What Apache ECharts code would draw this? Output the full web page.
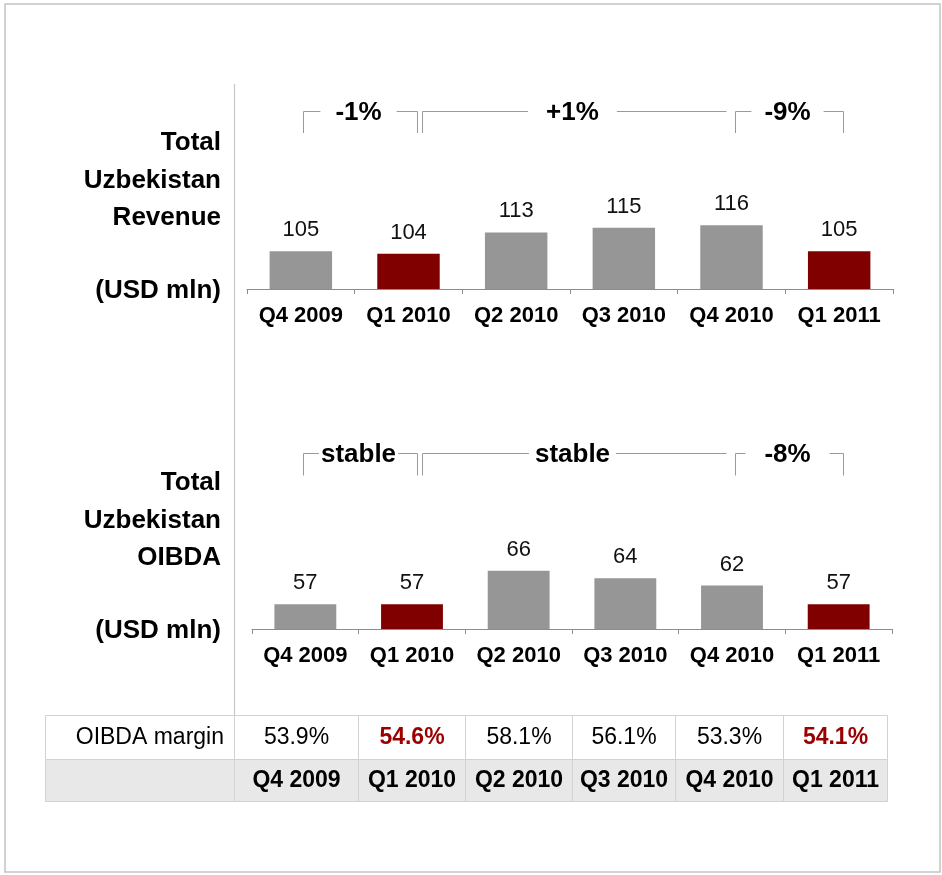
<!DOCTYPE html>
<html>
<head>
<meta charset="utf-8">
<title>Uzbekistan revenue and OIBDA</title>
<script src="https://cdn.jsdelivr.net/npm/echarts@6/dist/echarts.min.js"></script>
<style>
    html, body { margin: 0; padding: 0; background: #fff; }
    #chart { width: 942px; height: 875px; }
</style>
</head>
<body>
<div id="chart"></div>
<script type="text/javascript">
    // data
    var quarters = ['Q4 2009', 'Q1 2010', 'Q2 2010', 'Q3 2010', 'Q4 2010', 'Q1 2011'];
    var revenue = [105, 104, 113, 115, 116, 105];
    var oibda = [57, 57, 66, 64, 62, 57];
    var margins = ['53.9%', '54.6%', '58.1%', '56.1%', '53.3%', '54.1%'];
    var highlighted = [1, 5];   // Q1 quarters in dark red
    var revenueChanges = [
        { from: 0, to: 1, text: '-1%' },
        { from: 1, to: 4, text: '+1%', open: true },
        { from: 4, to: 5, text: '-9%' }
    ];
    var oibdaChanges = [
        { from: 0, to: 1, text: 'stable' },
        { from: 1, to: 4, text: 'stable', open: true },
        { from: 4, to: 5, text: '-8%' }
    ];

    var FONT = '"Liberation Sans", Arial, sans-serif';
    var GREY = '#969696';
    var RED = '#800000';

    var chart = echarts.init(document.getElementById('chart'));

    function barColor(p) {
        return highlighted.indexOf(p.dataIndex) >= 0 ? RED : GREY;
    }

    function xAxisFor(i) {
        return {
            type: 'category',
            gridIndex: i,
            data: quarters,
            axisLine: { lineStyle: { color: '#8c8c8c', width: 1 } },
            axisTick: { show: true, interval: 0, length: 5, lineStyle: { color: '#8c8c8c' } },
            axisLabel: {
                interval: 0, hideOverlap: false, margin: 16,
                fontSize: 22, fontWeight: 'bold', color: '#000', fontFamily: FONT
            }
        };
    }

    function barSeries(i, values) {
        return {
            type: 'bar',
            xAxisIndex: i,
            yAxisIndex: i,
            data: values,
            barWidth: '58%',
            itemStyle: { color: barColor },
            label: {
                show: true,
                position: 'top',
                distance: 10,
                fontSize: 22,
                color: '#111',
                fontFamily: FONT
            }
        };
    }

    chart.setOption({
        animation: false,
        textStyle: { fontFamily: FONT },
        grid: [
            { left: 247, right: 49, top: 190, height: 99 },
            { left: 252, right: 50, top: 530, height: 99 }
        ],
        xAxis: [xAxisFor(0), xAxisFor(1)],
        yAxis: [
            { type: 'value', gridIndex: 0, min: 89, max: 131, show: false },
            { type: 'value', gridIndex: 1, min: 50.3, max: 77, show: false }
        ],
        series: [barSeries(0, revenue), barSeries(1, oibda)]
    });

    // decorations: frame, titles, change brackets, margin table
    var els = [];

    els.push({
        type: 'rect', z: 1,
        shape: { x: 5, y: 4, width: 935, height: 868 },
        style: { fill: 'none', stroke: '#c4c4c4', lineWidth: 1.5 }
    });
    els.push({
        type: 'line', z: 1,
        shape: { x1: 234.5, y1: 84, x2: 234.5, y2: 715 },
        style: { stroke: '#c8c8c8', lineWidth: 1.2 }
    });

    function titleLines(lines, ys) {
        lines.forEach(function (t, k) {
            els.push({
                type: 'text', z: 5,
                style: {
                    text: t, x: 221, y: ys[k],
                    align: 'right', verticalAlign: 'middle',
                    font: 'bold 26px ' + FONT, fill: '#000'
                }
            });
        });
    }
    titleLines(['Total', 'Uzbekistan', 'Revenue', '(USD mln)'], [143, 180.5, 218, 291]);
    titleLines(['Total', 'Uzbekistan', 'OIBDA', '(USD mln)'], [483, 520.5, 558, 631]);

    // bracket ends relative to the bar centres of the upper chart
    var bracketNudge = [[2, 8], [13, -6], [3, 4]];
    function brackets(list, pads, yTop, yBottom, yText) {
        list.forEach(function (b, k) {
            var x1 = Math.round(chart.convertToPixel({ xAxisIndex: 0 }, quarters[b.from]) + bracketNudge[k][0]) + 0.5;
            var x2 = Math.round(chart.convertToPixel({ xAxisIndex: 0 }, quarters[b.to]) + bracketNudge[k][1]) + 0.5;
            var pts = b.open
                ? [[x1, yBottom], [x1, yTop], [x2, yTop]]
                : [[x1, yBottom], [x1, yTop], [x2, yTop], [x2, yBottom]];
            els.push({
                type: 'polyline', z: 3,
                shape: { points: pts },
                style: { fill: null, stroke: '#9a9a9a', lineWidth: 1 }
            });
            els.push({
                type: 'text', z: 6,
                style: {
                    text: b.text, x: (x1 + x2) / 2 - 2, y: yText,
                    align: 'center', verticalAlign: 'middle',
                    font: 'bold 26px ' + FONT, fill: '#000',
                    backgroundColor: '#fff', padding: [0, pads[k]]
                }
            });
        });
    }
    brackets(revenueChanges, [15, 18, 13], 111.5, 133, 113);
    brackets(oibdaChanges, [2, 6, 19], 453.5, 475.5, 455);

    // table with the OIBDA margin
    var colX = [45.5, 234.5, 358.5, 465.5, 572.5, 675.5, 783.5, 887.5];
    var rowY = [715.5, 759.5, 801.5];
    for (var r = 0; r < 2; r++) {
        for (var c = 0; c < colX.length - 1; c++) {
            els.push({
                type: 'rect', z: 2,
                shape: { x: colX[c], y: rowY[r], width: colX[c + 1] - colX[c], height: rowY[r + 1] - rowY[r] },
                style: { fill: r === 1 ? '#e8e8e8' : '#fff', stroke: '#d2d2d2', lineWidth: 1 }
            });
        }
    }
    var rowMid = [737.5, 780.5];
    els.push({
        type: 'text', z: 5,
        style: {
            text: 'OIBDA margin', x: 224, y: rowMid[0],
            align: 'right', verticalAlign: 'middle',
            font: '23px ' + FONT, fill: '#000'
        }
    });
    quarters.forEach(function (q, i) {
        var mid = (colX[i + 1] + colX[i + 2]) / 2;
        var hot = highlighted.indexOf(i) >= 0;
        els.push({
            type: 'text', z: 5,
            style: {
                text: margins[i], x: mid, y: rowMid[0],
                align: 'center', verticalAlign: 'middle',
                font: (hot ? 'bold ' : '') + '23px ' + FONT,
                fill: hot ? '#9b0000' : '#000'
            }
        });
        els.push({
            type: 'text', z: 5,
            style: {
                text: q, x: mid, y: rowMid[1],
                align: 'center', verticalAlign: 'middle',
                font: 'bold 23px ' + FONT, fill: '#000'
            }
        });
    });

    chart.setOption({ graphic: els });
</script>
</body>
</html>
